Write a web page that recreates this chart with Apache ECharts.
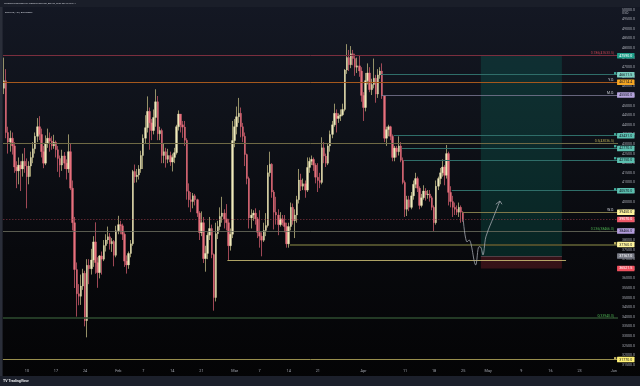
<!DOCTYPE html>
<html><head><meta charset="utf-8">
<script src="https://cdn.jsdelivr.net/npm/echarts@6/dist/echarts.min.js"></script>
<style>
html,body{margin:0;padding:0;background:#0b0d12;}
#c{width:640px;height:386px;background:linear-gradient(180deg,#141824 0%,#0e1118 35%,#08090d 65%,#040405 100%);}
</style>
</head><body><div id="c"></div>
<script>
// ---------- DATA ----------
const startSlot = '2022-01-04 12:00';   // first 12h candle slot
const slotCount = 296;                  // slots on the time axis (to 1 Jun)
// 12h candles: [open, close, low, high]
const candles = [
[45900,46300,45600,47500],[46300,43600,43300,46900],[43600,43100,42500,43900],[43100,43300,42600,43700],[43300,42900,42450,43600],
[42900,41800,41500,43100],[41800,41600,40700,42100],[41600,41900,40900,42300],[41900,41700,40550,42100],[41700,42100,41300,42500],
[42100,41850,41500,42790],[41850,41300,39650,42250],[41300,41850,40900,42100],[41850,42300,41300,42600],[42300,42750,42000,43100],
[42750,43400,42500,43600],[43400,43900,43100,44350],[43900,43500,43200,44450],[43500,42600,42300,43800],[42600,42000,41740,42900],
[42000,43050,41900,43450],[43050,43300,42800,43800],[43300,43150,42600,43600],[43150,42900,42700,43400],[42900,43100,42750,43480],
[43100,42700,42300,43180],[42700,42250,41550,42900],[42250,41900,41270,42400],[41900,42380,41600,42700],[42380,42000,41700,42580],
[42000,41700,41150,42200],[41700,42600,41500,43500],[42600,40700,40600,43000],[40700,38900,38500,41100],[38900,36460,35500,39200],
[36460,35200,34010,36830],[35200,35070,34600,35700],[35070,35600,34620,36200],[35600,36270,35400,36500],[36270,33800,33500,36400],
[33800,36680,32930,37000],[36680,36500,35700,37000],[36500,36960,36200,37540],[36960,37900,36600,38200],[37900,36820,36240,38920],
[36820,36300,35510,37100],[36300,37170,36000,37220],[37170,37000,36200,37400],[37000,37710,36900,38000],[37710,38000,37400,38300],
[38000,38170,37800,38700],[38170,37800,37500,38360],[37800,37920,37380,38100],[37920,37200,36630,38000],[37200,38480,37100,38740],
[38480,38800,38300,39260],[38800,38740,38300,39000],[38740,38300,38000,38850],[38300,36900,36600,38400],[36900,36700,36250,37200],
[36700,37300,36500,37400],[37300,37800,37100,38000],[37800,41570,37700,41650],[41570,41300,40980,41930],[41300,41380,41000,41700],
[41380,41700,41150,41900],[41700,42400,41500,42650],[42400,43300,41700,43500],[43300,43850,43000,44500],[43850,44700,43600,45480],
[44700,44100,42700,44900],[44100,43700,43200,44300],[43700,44380,43500,44800],[44380,45200,43900,45850],[45200,43530,43200,45500],
[43530,43700,43200,43900],[43700,42400,42000,43800],[42400,42600,42000,43000],[42600,42200,41770,42800],[42200,42400,42000,42750],
[42400,42060,41860,42600],[42060,42300,41570,42500],[42300,42550,42000,42800],[42550,43900,42450,44000],[43900,44560,43700,44750],
[44560,44000,43600,44560],[44000,43880,43320,44200],[43880,43200,42900,44200],[43200,40540,40100,43300],[40540,40100,39700,40950],
[40100,40000,39450,40500],[40000,40300,39650,40450],[40300,40100,39800,40400],[40100,39400,39200,40150],[39400,38380,38000,39500],
[38380,38900,38200,39490],[38900,37030,36800,39200],[37030,37300,36350,37700],[37300,38250,37000,38400],[38250,38600,38000,39200],
[38600,37250,37050,38800],[37250,35000,34320,37300],[35000,38330,34800,38900],[38330,38700,38050,39000],[38700,39230,38500,39700],
[39230,39400,38900,40250],[39400,39100,38600,39600],[39100,38900,38500,39870],[38900,37700,36960,39100],[37700,38300,37450,38600],
[38300,43180,38100,44200],[43180,43900,42830,44300],[43900,44420,43500,44950],[44420,44600,44100,45400],[44600,43900,43350,44900],
[43900,43400,43100,44100],[43400,42450,41850,43600],[42450,41200,40900,42500],[41200,39150,38600,41300],[39150,39300,38600,39600],
[39300,39400,39000,39550],[39400,39100,38800,39650],[39100,38400,38100,39200],[38400,38200,37600,39550],[38200,37990,37150,38400],
[37990,38500,37900,38900],[38500,38750,38200,39400],[38750,41500,38650,41900],[41500,41950,41300,42600],[41950,40500,40200,42000],
[40500,39450,38550,40600],[39450,39300,38800,40250],[39300,38800,38250,39600],[38800,39100,38700,39450],[39100,38900,38750,39300],
[38900,38700,38400,39300],[38700,37800,37600,38900],[37800,38700,37600,38900],[38700,39700,38500,39950],[39700,39000,38800,39900],
[39000,39300,38100,39600],[39300,40100,38900,40300],[40100,41120,39900,41700],[41120,40800,40550,41450],[40800,40930,40600,41200],
[40930,40600,40200,41100],[40600,41780,40500,42300],[41780,42100,41500,42300],[42100,42200,41900,42400],[42200,41900,41600,42300],
[41900,41270,40950,42000],[41270,41100,40500,42000],[41100,41000,40700,41500],[41000,42800,40900,43350],[42800,42370,42000,43100],
[42370,42000,41800,42500],[42000,42900,41900,43000],[42900,43500,42600,43700],[43500,44000,43300,44200],[44000,44600,43900,45100],
[44600,44330,43600,44800],[44330,44450,44100,44600],[44450,44520,44200,44800],[44520,44800,44450,45100],[44800,46850,44700,46900],
[46850,47500,46650,48200],[47500,47130,46800,47900],[47130,47700,46950,48100],[47700,47450,47100,47900],[47450,47000,46550,47700],
[47000,47070,46700,47500],[47070,46800,46500,47600],[46800,45530,45200,47000],[45530,44900,44200,45700],[44900,46300,44700,46700],
[46300,46700,46100,47200],[46700,45830,45700,47000],[45830,46100,45550,46400],[46100,46430,45900,47450],[46430,45600,45150,46600],
[45600,46600,45400,46900],[46600,46800,46400,47000],[46800,45500,45350,47200],[45500,43300,43100,45500],[43300,43750,42900,43900],
[43750,43900,43400,44000],[43900,43400,43200,43950],[43400,42300,42100,43500],[42300,42790,42100,42900],[42790,42600,42300,42900],
[42600,42900,42400,43400],[42900,42150,42050,43100],[42150,41000,40900,42300],[41000,39600,39200,41100],[39600,40100,39250,40300],
[40100,39700,39500,40300],[39700,40300,39600,40500],[40300,40900,40100,41100],[40900,41200,40700,41500],[41200,40700,40500,41300],
[40700,39800,39600,40800],[39800,40200,39700,40400],[40200,40550,40100,40850],[40550,40350,40050,40700],[40350,40400,40150,40600],
[40400,40200,40000,40600],[40200,39700,39550,40300],[39700,38900,38470,39800],[38900,40800,38800,41100],[40800,41200,40600,41300],
[41200,41500,40900,41750],[41500,41800,41300,42200],[41800,41370,40850,41900],[41370,42500,41200,42950],[42500,40480,39800,42600],
[40480,40000,39700,40800],[40000,39700,39200,40300],[39700,39600,39300,39950],[39600,39450,39300,39800],[39450,39700,39200,39950],
[39700,39450,38900,39800],[39450,39070,38950,39500]
];
// time axis tick labels
const tickDates = ['2022-01-10','2022-01-17','2022-01-24','2022-02-01','2022-02-07','2022-02-14','2022-02-21','2022-03-01','2022-03-07','2022-03-14','2022-03-21','2022-04-01','2022-04-11','2022-04-18','2022-04-25','2022-05-01','2022-05-09','2022-05-16','2022-05-23','2022-06-01'];
const tickTexts = ['10','17','24','Feb','7','14','21','Mar','7','14','21','Apr','11','18','25','May','9','16','23','Jun'];
// horizontal levels
const levelPrices = [47633.5, 46611.5, 46214.4, 45550.0, 43431.0, 43036.5, 42770.0, 42150.0, 40570.0, 39450.0, 39070.0, 38466.0, 37760.0, 36960.0, 33940.0, 31770.0];
const levelFrom = [null,'2022-04-05 12:00',null,'2022-04-05 12:00','2022-04-08 12:00',null,'2022-04-10 12:00','2022-04-11 00:00','2022-04-22 12:00','2022-04-25 00:00',null,null,'2022-03-14 12:00','2022-02-27 12:00',null,null];
const levelTo = [null,null,null,null,null,null,null,null,null,null,null,null,null,'2022-05-20 00:00',null,null];
const levelTexts = ['0.786(47633.5)','','Y.O.','M.O.','','0.5(43036.5)','','','','W.O.','','0.236(38466.0)','','','0(33940.0)',''];
// price-scale tags
const tagPrices = [47590.0, 46611.5, 46214.4, 45550.0, 43431.0, 42770.0, 42150.0, 40570.0, 39450.0, 39070.0, 38466.0, 37760.0, 37167.0, 36521.5, 31770.0];
// long position tool
const positionFrom = '2022-04-29 12:00';
const positionTo = '2022-05-19 00:00';
const targetPrice = 47590.0;
const entryPrice = 37167.0;
const stopPrice = 36521.5;
// hand-drawn projection path
const pathDates = ['2022-04-25 00:00','2022-04-25 22:00','2022-04-26 10:00','2022-04-28 00:00','2022-04-28 19:00','2022-04-29 06:00','2022-04-29 18:00','2022-04-30 11:00','2022-05-01 20:00','2022-05-03 20:00'];
const pathPrices = [39070, 37900, 38000, 36700, 37650, 37620, 37220, 38170, 38950, 40030];
const arrowDates = ['2022-05-02 20:00','2022-05-03 20:00','2022-05-04 08:00'];
const arrowPrices = [39860, 40030, 39860];

// ---------- STYLES ----------
const FONT = 'Roboto, "DejaVu Sans", sans-serif';
const levelStyle = [
 {color:'#7a2e3e', width:1, text:'#c2414f'},
 {color:'#2f6e69', width:1, flag:'#3fa898'},
 {color:'#a5581d', width:1, text:'#d1d4dc'},
 {color:'#7c7a96', width:0.8, text:'#d1d4dc'},
 {color:'#2f6e69', width:1, flag:'#3fa898'},
 {color:'#6f6a45', width:1, text:'#b4a852'},
 {color:'#2f6e69', width:1, flag:'#3fa898'},
 {color:'#2f6e69', width:1, flag:'#3fa898'},
 {color:'#2f6e69', width:1, flag:'#3fa898'},
 {color:'#7f7849', width:1, text:'#d1d4dc'},
 {color:'#a9404e', width:0.7, type:[1.5,1.5], opacity:0.75},
 {color:'#6f7060', width:0.8, text:'#4caf50'},
 {color:'#4d4d2b', width:2, flag:'#b8aa5c'},
 {color:'#d9cc7c', width:0.8},
 {color:'#2e4c2f', width:1.6, text:'#4caf50'},
 {color:'#998f4e', width:1, flag:'#b8aa5c'}
];
const tagStyle = [
 ['#1f9e89','#ffffff'],['#7ccfc0','#131722'],['#f5a623','#131722'],['#b5a4dc','#131722'],
 ['#5cc0b0','#131722'],['#5cc0b0','#131722'],['#5cc0b0','#131722'],['#5cc0b0','#131722'],
 ['#fff59d','#131722'],['#ef5a6a','#ffffff'],['#b39ddb','#131722'],['#fff59d','#131722'],
 ['#787b86','#ffffff'],['#f0505e','#ffffff'],['#fff176','#131722']
];

// ---------- BUILD ----------
const SLOT_MS = 12*3600*1000;
function toMs(s){ const [d,t]=s.split(' '); const [Y,M,D]=d.split('-').map(Number); const [h,m]=(t||'00:00').split(':').map(Number); return Date.UTC(Y,M-1,D,h,m); }
const T0 = toMs(startSlot);
function slotOf(s){ return (toMs(s)-T0)/SLOT_MS; }
const categories = [];
for (let i=0;i<slotCount;i++){ const iso=new Date(T0+i*SLOT_MS).toISOString(); categories.push(iso.slice(0,10)+' '+iso.slice(11,16)); }
const tickMap = {}; tickDates.forEach((d,i)=>{ tickMap[d+' 00:00']=tickTexts[i]; });
const XMIN = -0.5, XMAX = slotCount-0.5;

const bodies = candles.map(c=>[c[0],c[1],Math.min(c[0],c[1]),Math.max(c[0],c[1])]);

const levelLines = levelPrices.map((p,i)=>{
  const st = levelStyle[i];
  const x0 = levelFrom[i] ? slotOf(levelFrom[i])-0.5 : XMIN;
  const x1 = levelTo[i] ? slotOf(levelTo[i])-0.5 : XMAX;
  let label = {show:false};
  if (levelTexts[i]) label = {show:true, position:'insideEndTop', distance:[4,0.6], formatter:levelTexts[i], color:st.text, fontSize:3.4, fontFamily:FONT};
  else if (st.flag) label = {show:true, position:'insideEndTop', distance:[1.5,0.2], formatter:'■', color:st.flag, fontSize:3, fontFamily:FONT};
  return [{coord:[x0,p], lineStyle:{color:st.color, width:st.width, type:st.type||'solid', opacity:st.opacity==null?1:st.opacity}, label},{coord:[x1,p]}];
});
levelLines.push([{coord:[slotOf(positionFrom)-0.5, entryPrice], lineStyle:{color:'#5b4a52', width:0.8, type:'solid', opacity:1}, label:{show:false}},{coord:[slotOf(positionTo)-0.5, entryPrice]}]);

// price tags: labels of invisible points placed on the right edge of the plot
const tagSeries = {
  type:'scatter', xAxisIndex:1, z:20, silent:true, symbol:'rect', symbolSize:[0.1,0.1], clip:false,
  itemStyle:{color:'rgba(0,0,0,0)'},
  data: tagPrices.map((p,i)=>({
    value:[XMAX, p],
    label:{show:true, position:'right', distance:-1, formatter:p.toFixed(1), opacity:1,
      backgroundColor:tagStyle[i][0], color:tagStyle[i][1], fontSize:3.6, fontFamily:FONT,
      padding:[0.9,2.2,0.6,2.2], borderRadius:0.5}
  }))
};

const option = {
  animation:false,
  backgroundColor:'transparent',
  grid:{left:3, right:22, top:0, bottom:11.6, containLabel:false},
  xAxis:[
    {type:'category', data:categories, boundaryGap:true,
     axisLine:{show:false}, axisTick:{show:false}, splitLine:{show:false},
     axisLabel:{interval:(idx,val)=>tickMap[val]!==undefined, formatter:v=>tickMap[v]||'', color:'#a3a6af', fontSize:3.8, fontFamily:FONT, margin:-5.6, showMaxLabel:true, showMinLabel:true, hideOverlap:false, alignMaxLabel:'right'}},
    {type:'value', min:XMIN, max:XMAX, show:false}
  ],
  yAxis:{type:'value', position:'right', min:31000, max:50500, interval:500,
     axisLine:{show:false}, axisTick:{show:false}, splitLine:{show:false},
     axisLabel:{color:'#a3a6af', fontSize:3.6, fontFamily:FONT, margin:4, formatter:v=>(v<=31000||v>=50500)?'':v.toFixed(1)}},
  series:[
    {type:'line', xAxisIndex:1, data:[], z:1, silent:true,
     markArea:{silent:true, data:[
       [{coord:[slotOf(positionFrom)-0.5, targetPrice], itemStyle:{color:'rgba(8,153,129,0.2)'}},{coord:[slotOf(positionTo)-0.5, entryPrice]}],
       [{coord:[slotOf(positionFrom)-0.5, entryPrice], itemStyle:{color:'rgba(242,54,69,0.2)'}},{coord:[slotOf(positionTo)-0.5, stopPrice]}]
     ]},
     markLine:{silent:true, symbol:['none','none'], label:{show:false}, data:levelLines}},
    {type:'candlestick', name:'wick', xAxisIndex:0, data:candles, z:3, barWidth:1, silent:true,
     itemStyle:{color:'#a59f72', color0:'#b04f5d', borderColor:'#a59f72', borderColor0:'#b04f5d', borderWidth:0.9}},
    {type:'candlestick', name:'body', xAxisIndex:0, data:bodies, z:4, barWidth:2, silent:true,
     itemStyle:{color:'#f0eabb', color0:'#e8707d', borderColor:'#f0eabb', borderColor0:'#e8707d', borderWidth:0.3}},
    {type:'line', xAxisIndex:1, z:6, silent:true, smooth:0.35, symbol:'none',
     lineStyle:{color:'#a4a8b0', width:0.8},
     data:pathDates.map((d,i)=>[slotOf(d), pathPrices[i]])},
    {type:'line', xAxisIndex:1, z:6, silent:true, symbol:'none',
     lineStyle:{color:'#a4a8b0', width:0.8},
     data:arrowDates.map((d,i)=>[slotOf(d), arrowPrices[i]])},
    tagSeries
  ],
  graphic:[
    {type:'rect', z:-1, shape:{x:0,y:0,width:640,height:7}, style:{fill:'#1a1e29'}},
    {type:'rect', z:-1, shape:{x:0,y:7,width:2.6,height:369}, style:{fill:'#2a2e39'}},
    {type:'rect', z:-1, shape:{x:0,y:376,width:640,height:10}, style:{fill:'#1c202b'}},
    {type:'text', left:4, top:2.2, style:{text:'LeoDavis published on TradingView.com, Apr 25, 2022 08:42 UTC+7', fill:'#c9ccd4', fontSize:2.4, fontFamily:FONT}},
    {type:'text', left:5, top:11.2, style:{text:'BTCUSD, 12h, BITSTAMP', fill:'#c9ccd4', fontSize:2.5, fontFamily:FONT}},
    {type:'text', left:622, top:11.3, style:{text:'USD', fill:'#a3a6af', fontSize:3.4, fontFamily:FONT}},
    {type:'text', left:3, top:379.2, style:{text:'TV TradingView', fill:'#e8e9ec', fontSize:3.6, fontWeight:'bold', fontFamily:FONT}}
  ]
};
const chart = echarts.init(document.getElementById('c'), null, {renderer:'canvas'});
chart.setOption(option);
</script>
</body></html>
